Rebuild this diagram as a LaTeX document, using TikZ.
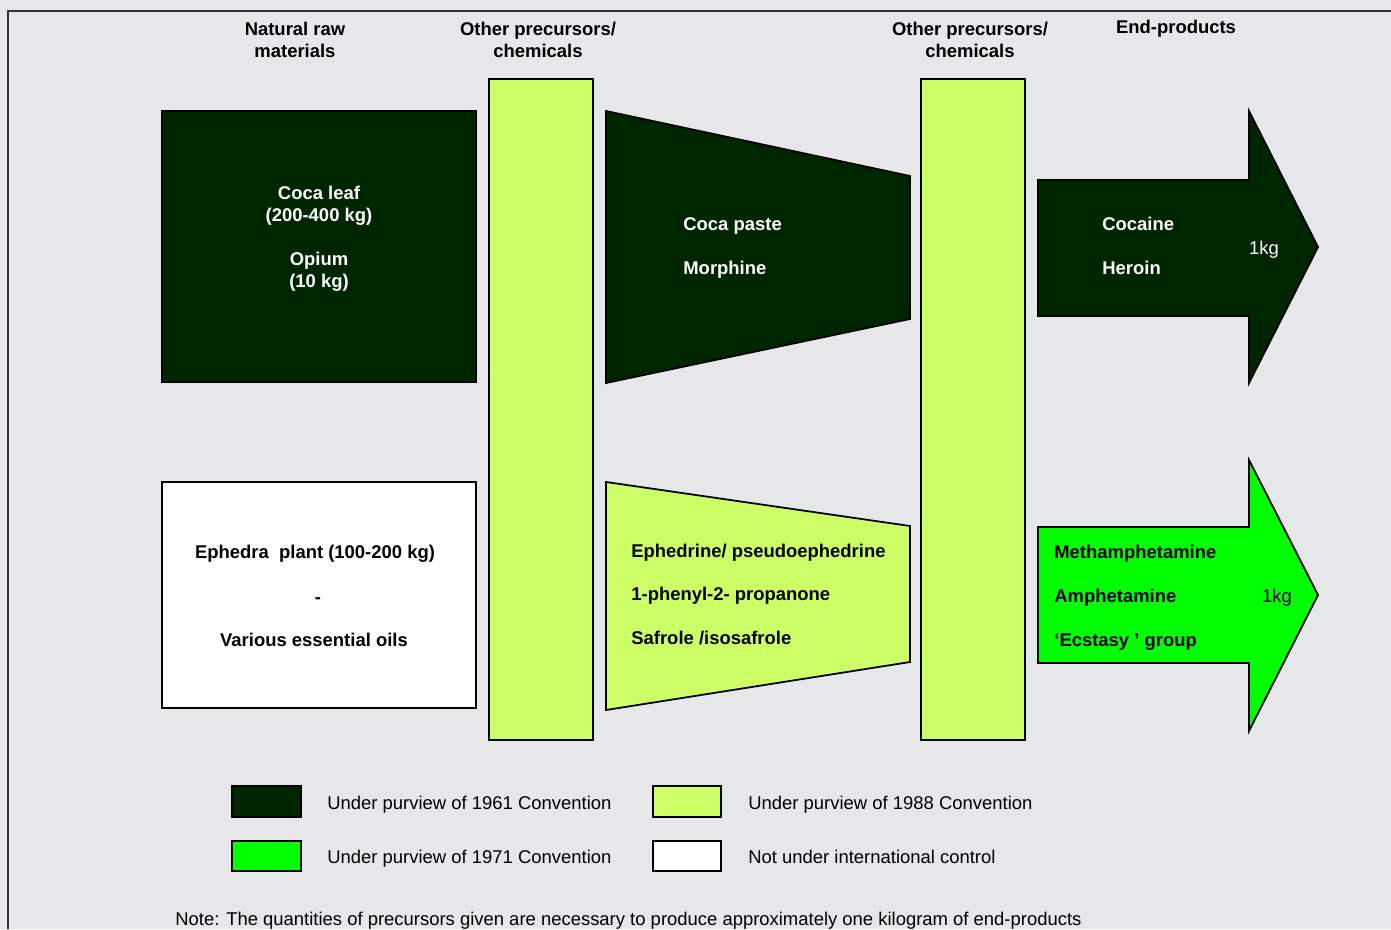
\documentclass[tikz,border=0pt]{standalone}
\usepackage{fontspec}
\setmainfont{Liberation Sans}
\usetikzlibrary{positioning}
\definecolor{cocagreen}{HTML}{002600}
\definecolor{limegreen}{HTML}{CCFF66}
\definecolor{neongreen}{HTML}{00FF00}
\definecolor{panelgray}{HTML}{E6E7E9}
\newcommand{\chartfont}{\fontsize{10.5}{12.5}\selectfont}
\tikzset{
    block/.style = {draw=black, line width=1pt},
    darkblock/.style = {block, fill=cocagreen},
    limeblock/.style = {block, fill=limegreen},
    neonblock/.style = {block, fill=neongreen},
    whiteblock/.style = {block, fill=white},
    header/.style = {anchor=base, inner sep=0pt, font=\chartfont\bfseries},
    wtext/.style = {anchor=base, inner sep=0pt, text=white, font=\chartfont\bfseries},
    wtextl/.style = {wtext, anchor=base west},
    btext/.style = {anchor=base, inner sep=0pt, font=\chartfont\bfseries},
    btextl/.style = {btext, anchor=base west},
    plain/.style = {anchor=base west, inner sep=0pt, font=\chartfont},
    keybox/.style = {draw=black, line width=1.2pt}
}

\begin{document}
\begin{tikzpicture}[x=0.02cm, y=-0.02cm]
  \useasboundingbox (0,0) rectangle (1391,929);
  \fill[panelgray] (0,0) rectangle (1391,929);
  \draw[line width=1.6pt, black!80] (8,929) -- (8,11) -- (1391,11);

  % column headers
  \node[header] (hraw1) at (295,36) {Natural raw};
  \node[header] (hraw2) at (295,58) {materials};
  \node[header] (hpre1) at (538,36) {Other precursors/};
  \node[header] (hpre2) at (538,58) {chemicals};
  \node[header] (hchem1) at (970,36) {Other precursors/};
  \node[header] (hchem2) at (970,58) {chemicals};
  \node[header] (hend) at (1176,34) {End-products};

  % raw materials
  \draw[darkblock] (162,111) rectangle (476,382);
  \node[wtext] (coca) at (319,199) {Coca leaf};
  \node[wtext] (cocakg) at (319,221) {(200-400 kg)};
  \node[wtext] (opium) at (319,265) {Opium};
  \node[wtext] (opiumkg) at (319,287) {(10 kg)};

  \draw[whiteblock] (162,482) rectangle (476,708);
  \node[btext] (ephedra) at (315,558) {Ephedra\ \ plant (100-200 kg)};
  \node[btext] (dash) at (318,603) {-};
  \node[btext] (oils) at (314,646) {Various essential oils};

  % precursor columns
  \draw[limeblock] (489,79) rectangle (593,740);
  \draw[limeblock] (921,79) rectangle (1025,740);

  % intermediate products
  \draw[darkblock] (606,111) -- (910,176) -- (910,319) -- (606,383) -- cycle;
  \node[wtextl] (paste) at (683,230) {Coca paste};
  \node[wtextl] (morph) at (683,274) {Morphine};

  \draw[limeblock] (606,482) -- (910,526) -- (910,662) -- (606,710) -- cycle;
  \node[btextl] (ephed) at (631,557) {Ephedrine/ pseudoephedrine};
  \node[btextl] (p2p) at (631,600) {1-phenyl-2- propanone};
  \node[btextl] (safrole) at (631,644) {Safrole /isosafrole};

  % end-products
  \draw[darkblock] (1038,180) -- (1249,180) -- (1249,111) -- (1318,247)
    -- (1249,383) -- (1249,316) -- (1038,316) -- cycle;
  \node[wtextl] (cocaine) at (1102,230) {Cocaine};
  \node[wtextl] (heroin) at (1102,274) {Heroin};
  \node[anchor=base, inner sep=0pt, text=white, font=\chartfont] (kgtop) at (1264,254) {1kg};

  \draw[neonblock] (1038,527) -- (1249,527) -- (1249,460) -- (1318,595)
    -- (1249,731) -- (1249,663) -- (1038,663) -- cycle;
  \node[btextl] (meth) at (1054,558) {Methamphetamine};
  \node[btextl] (amph) at (1054,602) {Amphetamine};
  \node[btextl] (ecst) at (1054,646) {`Ecstasy ' group};
  \node[anchor=base, inner sep=0pt, font=\chartfont] (kgbot) at (1277,602) {1kg};

  % legend
  \draw[keybox, fill=cocagreen] (232,786) rectangle (301,817);
  \node[plain] (k1961) at (327,809) {Under purview of 1961 Convention};
  \draw[keybox, fill=limegreen] (653,786) rectangle (721,817);
  \node[plain] (k1988) at (748,809) {Under purview of 1988 Convention};
  \draw[keybox, fill=neongreen] (232,841) rectangle (301,871);
  \node[plain] (k1971) at (327,863) {Under purview of 1971 Convention};
  \draw[keybox, fill=white] (653,841) rectangle (721,871);
  \node[plain] (knone) at (748,863) {Not under international control};

  \node[plain] (note) at (175,925) {Note: The quantities of precursors given are necessary to produce approximately one kilogram of end-products};
\end{tikzpicture}
\end{document}
